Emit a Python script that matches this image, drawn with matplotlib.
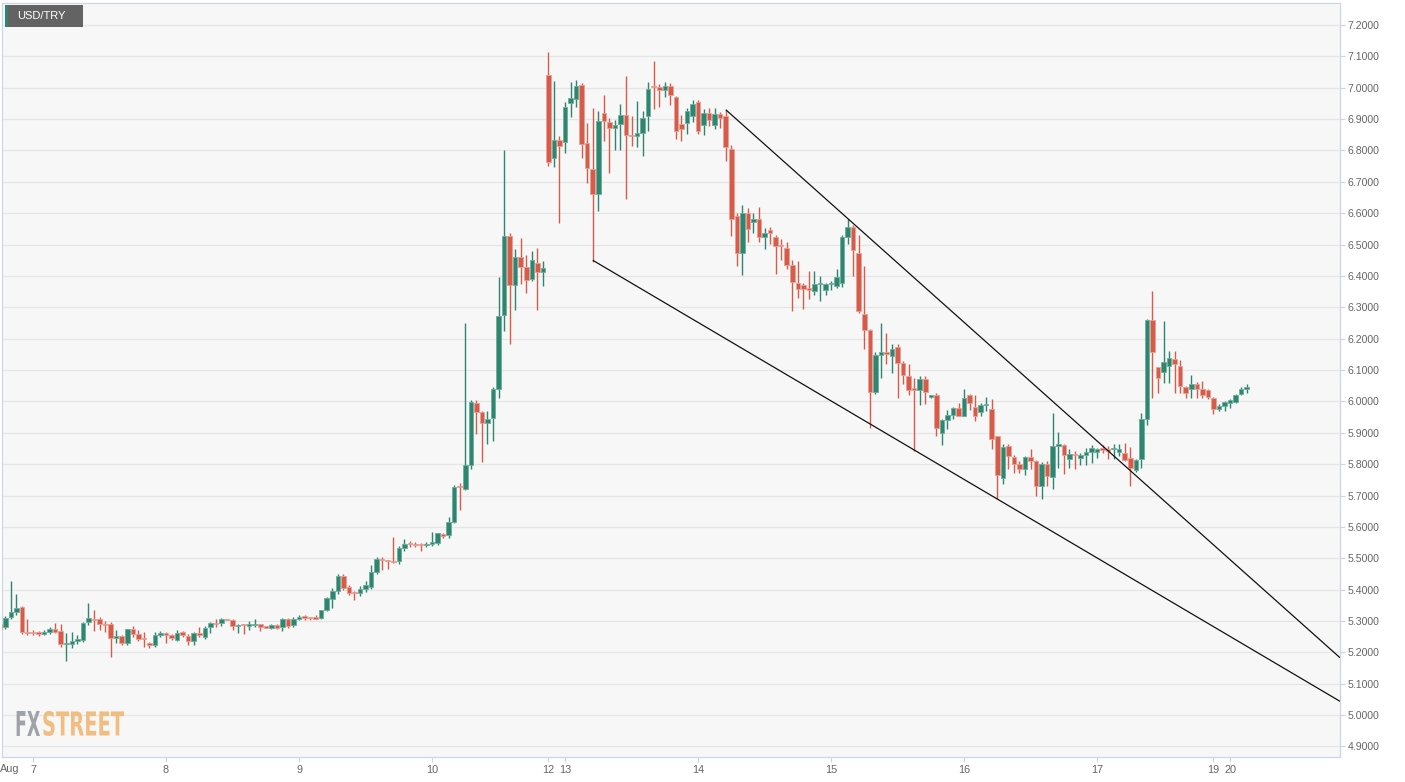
import numpy as np
import matplotlib
matplotlib.use("Agg")
import matplotlib.pyplot as plt
from matplotlib.patches import Rectangle, PathPatch
from matplotlib.textpath import TextPath
from matplotlib.font_manager import FontProperties
from matplotlib.transforms import Affine2D

plt.rcParams['font.family'] = ['Liberation Sans', 'DejaVu Sans']

# ---------------- data (hourly USD/TRY candles, index -1 .. 224) ----------------
opens = [5.290, 5.282, 5.314, 5.330, 5.345, 5.266, 5.264, 5.262, 5.260, 5.264,
         5.274, 5.267, 5.227, 5.227, 5.235, 5.241, 5.296, 5.308, 5.305, 5.289,
         5.289, 5.246, 5.251, 5.229, 5.273, 5.258, 5.245, 5.229, 5.225, 5.254,
         5.260, 5.256, 5.240, 5.264, 5.253, 5.235, 5.262, 5.248, 5.280, 5.293,
         5.293, 5.305, 5.302, 5.284, 5.288, 5.285, 5.287, 5.289, 5.282, 5.279,
         5.287, 5.280, 5.306, 5.286, 5.308, 5.313, 5.311, 5.310, 5.309, 5.334,
         5.371, 5.396, 5.445, 5.407, 5.391, 5.389, 5.402, 5.410, 5.456, 5.498,
         5.493, 5.490, 5.492, 5.533, 5.547, 5.546, 5.544, 5.541, 5.545, 5.549,
         5.578, 5.575, 5.616, 5.728, 5.720, 5.796, 5.996, 5.966, 5.932, 5.948,
         6.041, 6.277, 6.528, 6.370, 6.459, 6.427, 6.391, 6.440, 6.413, 7.041,
         6.776, 6.834, 6.826, 6.952, 6.965, 7.010, 6.823, 6.741, 6.660, 6.919,
         6.890, 6.871, 6.885, 6.914, 6.848, 6.845, 6.857, 6.909, 7.006, 7.002,
         6.994, 7.004, 6.972, 6.885, 6.887, 6.909, 6.953, 6.882, 6.919, 6.882,
         6.916, 6.910, 6.804, 6.590, 6.472, 6.600, 6.571, 6.582, 6.523, 6.545,
         6.525, 6.497, 6.489, 6.435, 6.379, 6.372, 6.359, 6.353, 6.374, 6.356,
         6.374, 6.369, 6.379, 6.525, 6.557, 6.472, 6.280, 6.227, 6.031, 6.148,
         6.158, 6.145, 6.175, 6.123, 6.081, 6.041, 6.038, 6.072, 6.015, 6.022,
         5.898, 5.940, 5.956, 5.980, 5.955, 6.022, 5.982, 5.967, 5.988, 5.977,
         5.889, 5.756, 5.857, 5.822, 5.801, 5.785, 5.822, 5.810, 5.730, 5.802,
         5.760, 5.858, 5.861, 5.815, 5.833, 5.820, 5.828, 5.838, 5.838, 5.849,
         5.849, 5.847, 5.838, 5.836, 5.820, 5.781, 5.815, 5.945, 6.261, 6.110,
         6.095, 6.113, 6.135, 6.113, 6.046, 6.039, 6.055, 6.039, 6.037, 6.012,
         5.977, 5.985, 5.996, 5.999, 6.023, 6.039]
highs = [5.295, 5.316, 5.428, 5.385, 5.347, 5.305, 5.270, 5.268, 5.270, 5.281,
         5.293, 5.289, 5.262, 5.265, 5.256, 5.298, 5.358, 5.336, 5.314, 5.300,
         5.298, 5.270, 5.254, 5.276, 5.284, 5.271, 5.265, 5.233, 5.265, 5.267,
         5.265, 5.260, 5.270, 5.267, 5.260, 5.265, 5.281, 5.284, 5.298, 5.307,
         5.310, 5.307, 5.306, 5.292, 5.290, 5.300, 5.305, 5.292, 5.284, 5.291,
         5.291, 5.310, 5.310, 5.312, 5.318, 5.318, 5.314, 5.318, 5.336, 5.376,
         5.405, 5.450, 5.450, 5.415, 5.396, 5.412, 5.428, 5.480, 5.503, 5.504,
         5.495, 5.568, 5.538, 5.560, 5.554, 5.553, 5.550, 5.553, 5.585, 5.582,
         5.582, 5.632, 5.734, 5.739, 6.250, 6.003, 6.006, 5.969, 5.969, 6.046,
         6.397, 6.803, 6.536, 6.485, 6.520, 6.467, 6.479, 6.488, 6.448, 7.114,
         7.022, 6.845, 6.956, 7.018, 7.026, 7.015, 6.887, 6.935, 6.927, 6.978,
         6.905, 6.898, 6.948, 7.036, 6.909, 6.959, 6.927, 7.017, 7.086, 7.013,
         7.018, 7.015, 6.975, 6.914, 6.935, 6.962, 6.960, 6.933, 6.935, 6.935,
         6.924, 6.930, 6.818, 6.600, 6.627, 6.616, 6.600, 6.619, 6.552, 6.555,
         6.529, 6.518, 6.507, 6.451, 6.449, 6.379, 6.417, 6.415, 6.399, 6.379,
         6.385, 6.422, 6.532, 6.582, 6.561, 6.529, 6.433, 6.230, 6.156, 6.249,
         6.217, 6.182, 6.182, 6.129, 6.118, 6.076, 6.081, 6.081, 6.022, 6.028,
         5.943, 5.974, 5.983, 5.996, 6.040, 6.024, 6.019, 5.996, 6.015, 6.009,
         5.891, 5.863, 5.863, 5.828, 5.810, 5.826, 5.849, 5.812, 5.806, 5.810,
         5.962, 5.903, 5.863, 5.847, 5.842, 5.836, 5.852, 5.861, 5.852, 5.861,
         5.858, 5.865, 5.865, 5.868, 5.855, 5.815, 5.964, 6.263, 6.351, 6.110,
         6.255, 6.161, 6.161, 6.132, 6.049, 6.085, 6.062, 6.065, 6.039, 6.015,
         5.991, 6.001, 6.007, 6.023, 6.046, 6.055]
lows = [5.270, 5.276, 5.305, 5.320, 5.260, 5.257, 5.255, 5.253, 5.257, 5.260,
        5.262, 5.218, 5.171, 5.214, 5.227, 5.233, 5.287, 5.268, 5.270, 5.265,
        5.186, 5.229, 5.225, 5.222, 5.249, 5.235, 5.218, 5.214, 5.216, 5.249,
        5.229, 5.238, 5.235, 5.249, 5.225, 5.225, 5.249, 5.243, 5.263, 5.280,
        5.284, 5.302, 5.272, 5.262, 5.260, 5.270, 5.281, 5.268, 5.277, 5.273,
        5.273, 5.268, 5.277, 5.280, 5.302, 5.302, 5.302, 5.305, 5.306, 5.331,
        5.340, 5.386, 5.400, 5.383, 5.366, 5.380, 5.391, 5.403, 5.450, 5.462,
        5.465, 5.485, 5.482, 5.522, 5.535, 5.536, 5.522, 5.537, 5.540, 5.543,
        5.566, 5.566, 5.613, 5.653, 5.718, 5.785, 5.896, 5.806, 5.865, 5.875,
        6.012, 6.224, 6.183, 6.292, 6.373, 6.347, 6.383, 6.292, 6.367, 6.752,
        6.747, 6.568, 6.791, 6.906, 6.940, 6.776, 6.696, 6.444, 6.607, 6.829,
        6.728, 6.802, 6.802, 6.645, 6.813, 6.810, 6.783, 6.861, 6.933, 6.940,
        6.972, 6.945, 6.837, 6.829, 6.852, 6.890, 6.852, 6.850, 6.879, 6.868,
        6.871, 6.765, 6.526, 6.433, 6.403, 6.507, 6.537, 6.507, 6.486, 6.502,
        6.406, 6.451, 6.422, 6.289, 6.331, 6.296, 6.326, 6.339, 6.321, 6.339,
        6.355, 6.363, 6.365, 6.502, 6.399, 6.283, 6.166, 5.916, 6.024, 6.076,
        6.120, 6.091, 6.012, 6.054, 6.022, 5.841, 5.990, 5.993, 6.010, 5.889,
        5.861, 5.911, 5.943, 5.953, 5.953, 5.974, 5.939, 5.953, 5.971, 5.847,
        5.689, 5.738, 5.786, 5.772, 5.772, 5.767, 5.783, 5.698, 5.689, 5.730,
        5.721, 5.788, 5.769, 5.788, 5.783, 5.796, 5.796, 5.804, 5.820, 5.836,
        5.815, 5.815, 5.826, 5.810, 5.730, 5.774, 5.788, 5.924, 6.010, 6.028,
        6.060, 6.060, 6.028, 6.028, 6.012, 6.012, 6.012, 6.012, 6.007, 5.959,
        5.970, 5.970, 5.980, 5.994, 6.020, 6.026]
closes = [5.275, 5.311, 5.329, 5.343, 5.265, 5.262, 5.262, 5.260, 5.265, 5.274,
          5.266, 5.227, 5.230, 5.236, 5.243, 5.294, 5.311, 5.304, 5.289, 5.286,
          5.246, 5.251, 5.229, 5.273, 5.260, 5.243, 5.243, 5.224, 5.254, 5.262,
          5.257, 5.246, 5.262, 5.254, 5.235, 5.262, 5.254, 5.279, 5.293, 5.290,
          5.305, 5.303, 5.284, 5.287, 5.286, 5.289, 5.289, 5.282, 5.279, 5.287,
          5.277, 5.306, 5.285, 5.306, 5.313, 5.311, 5.310, 5.308, 5.334, 5.372,
          5.396, 5.444, 5.405, 5.389, 5.388, 5.402, 5.416, 5.456, 5.498, 5.494,
          5.490, 5.487, 5.533, 5.547, 5.544, 5.543, 5.541, 5.545, 5.552, 5.579,
          5.572, 5.616, 5.728, 5.726, 5.796, 5.998, 5.967, 5.932, 5.944, 6.041,
          6.272, 6.528, 6.370, 6.459, 6.429, 6.388, 6.452, 6.413, 6.426, 6.763,
          6.834, 6.813, 6.940, 6.967, 7.007, 6.821, 6.744, 6.662, 6.893, 6.893,
          6.871, 6.882, 6.914, 6.848, 6.845, 6.857, 6.903, 6.996, 7.002, 6.994,
          7.004, 6.976, 6.861, 6.869, 6.927, 6.948, 6.861, 6.919, 6.898, 6.916,
          6.905, 6.811, 6.582, 6.473, 6.600, 6.550, 6.580, 6.523, 6.536, 6.536,
          6.497, 6.494, 6.436, 6.381, 6.358, 6.358, 6.356, 6.374, 6.376, 6.374,
          6.377, 6.397, 6.525, 6.557, 6.483, 6.289, 6.227, 6.031, 6.148, 6.158,
          6.150, 6.167, 6.123, 6.083, 6.038, 6.038, 6.073, 6.030, 6.018, 5.916,
          5.940, 5.956, 5.978, 5.955, 6.010, 5.996, 5.953, 5.988, 5.991, 5.879,
          5.765, 5.854, 5.826, 5.801, 5.785, 5.822, 5.810, 5.730, 5.802, 5.762,
          5.858, 5.863, 5.829, 5.831, 5.829, 5.828, 5.838, 5.852, 5.847, 5.846,
          5.842, 5.849, 5.847, 5.813, 5.788, 5.813, 5.943, 6.261, 6.156, 6.076,
          6.126, 6.140, 6.120, 6.049, 6.028, 6.055, 6.039, 6.020, 6.015, 5.975,
          5.985, 5.998, 6.005, 6.021, 6.039, 6.047]

first_index = -1
tick_positions = [5, 29, 53, 77, 98, 101, 125, 149, 173, 197, 218, 221]
tick_labels = ['7', '8', '9', '10', '12', '13', '14', '15', '16', '17', '19', '20']
month_label = 'Aug'
y_ticks = [round(4.9 + 0.1 * i, 1) for i in range(24)]

# falling-wedge trend lines: (index, price) anchor points
upper_line = [(130, 6.930), (240.84, 5.183)]
lower_line = [(106, 6.450), (240.84, 5.044)]

# ---------------- styling ----------------
W, H = 1405, 782
GREEN = '#2e8570'
RED = '#d65b49'
GREEN_EDGE = '#6fae9c'
RED_EDGE = '#eaa096'
AXIS = '#ccd6eb'
GRID = '#e6e6e6'
LABEL = '#666666'

fig = plt.figure(figsize=(W / 100, H / 100), dpi=100)
fig.patch.set_facecolor('white')

px_left, px_right, px_top, px_bottom = 2, 1340, 3, 757
ax = fig.add_axes([px_left / W, 1 - px_bottom / H,
                   (px_right - px_left) / W, (px_bottom - px_top) / H])
ax.set_facecolor('#f7f7f7')

x = np.arange(len(opens)) + first_index
o = np.array(opens); h = np.array(highs); l = np.array(lows); c = np.array(closes)
up = c >= o
colors = np.where(up, GREEN, RED)
edges = np.where(up, GREEN_EDGE, RED_EDGE)

ax.vlines(x, l, h, colors=colors, linewidth=1.0, zorder=2)
body_bottom = np.minimum(o, c)
body_h = np.maximum(np.abs(c - o), 0.004)
ax.bar(x, body_h, bottom=body_bottom, width=0.82, color=colors,
       edgecolor=edges, linewidth=0.6, zorder=3)

for line in (upper_line, lower_line):
    xs, ys = zip(*line)
    ax.plot(xs, ys, color='#111111', linewidth=0.9, zorder=4, solid_capstyle='butt')

ax.set_xlim(-0.6, 240.84)
ax.set_ylim(4.8665, 7.2701)

ax.set_yticks(y_ticks)
ax.set_yticklabels([f'{v:.4f}' for v in y_ticks])
ax.yaxis.tick_right()
ax.tick_params(axis='y', which='both', left=False, right=True, labelleft=False,
               labelright=True, length=3.5, width=0.8, color=AXIS,
               labelcolor=LABEL, labelsize=7.6, pad=2)
ax.set_xticks(tick_positions)
ax.set_xticklabels(tick_labels)
ax.tick_params(axis='x', length=3.5, width=0.8, color=AXIS, labelcolor=LABEL,
               labelsize=7.8, pad=2.5)

ax.yaxis.grid(True, color=GRID, linewidth=0.9)
ax.xaxis.grid(False)
ax.set_axisbelow(True)
for s in ['left', 'right', 'bottom', 'top']:
    ax.spines[s].set_color(AXIS)
    ax.spines[s].set_linewidth(0.9)

# month label left of the first day tick
fig.text(0 / W, 1 - 769 / H, month_label, ha='left', va='center',
         fontsize=7.8, color=LABEL)

# ---------------- top-left instrument box ----------------
def fig_rect(x0, y0, x1, y1, color, z=10):
    r = Rectangle((x0 / W, 1 - y1 / H), (x1 - x0) / W, (y1 - y0) / H,
                  transform=fig.transFigure, facecolor=color, edgecolor='none',
                  zorder=z)
    fig.add_artist(r)

fig_rect(5, 5, 83, 27, '#636363')
fig_rect(5, 5, 7.5, 27, GREEN, z=11)
fig.text(17 / W, 1 - 16.3 / H, 'USD/TRY', ha='left', va='center', fontsize=8,
         color='white', zorder=12)

# ---------------- FXSTREET logo (condensed via path scaling) ----------------
def logo_text(s, x0, x1, y0, y1, color):
    tp = TextPath((0, 0), s, size=10, prop=FontProperties(family='DejaVu Sans', weight='bold'))
    v = tp.vertices
    bx0, by0 = v[:, 0].min(), v[:, 1].min()
    bx1, by1 = v[:, 0].max(), v[:, 1].max()
    sx = (x1 - x0) / (bx1 - bx0) / W
    sy = (y1 - y0) / (by1 - by0) / H
    tr = Affine2D().translate(-bx0, -by0).scale(sx, sy).translate(x0 / W, 1 - y1 / H)
    p = PathPatch(tr.transform_path(tp), facecolor=color, edgecolor='none',
                  transform=fig.transFigure, zorder=10)
    fig.add_artist(p)

logo_text('FX', 15, 40, 711, 736, '#9ea2a9')
logo_text('STREET', 42, 124, 711, 736, '#f2bd80')

fig.savefig('out.png', dpi=100, facecolor='white')
